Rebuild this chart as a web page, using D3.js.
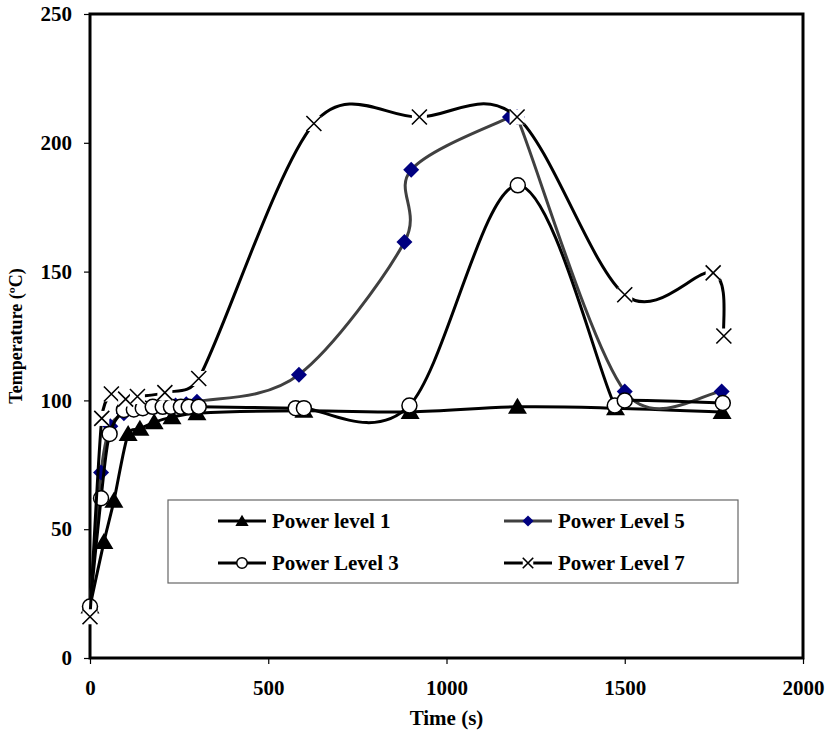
<!DOCTYPE html>
<html>
<head>
<meta charset="utf-8">
<script src="https://cdn.jsdelivr.net/npm/d3@7.9.0/dist/d3.min.js"></script>
<style>
  body { margin: 0; background: #fff; }
  svg text { font-family: "Liberation Serif", "Times New Roman", serif; font-weight: bold; }
</style>
</head>
<body>
<svg id="chart" width="827" height="733"></svg>
<script>
// Power level readings (time in s, temperature in ºC)
const p1Time = [0, 39, 67, 107, 140, 180, 230, 300, 600, 898, 1199, 1474, 1773];
const p1Temp = [20, 45, 61, 87, 89, 91.5, 93.5, 95, 96, 95.5, 97.5, 97, 95.5];

const p5Time = [0, 31, 57, 95, 123, 150, 180, 210, 240, 270, 300, 586, 882, 901, 1178, 1198, 1500, 1772];
const p5Temp = [20, 72, 90, 95, 96.5, 97, 97.5, 98, 98, 98.5, 99.5, 110, 161.5, 189.5, 210, 210, 103.5, 103.5];

const p3Time = [0, 31, 55, 95, 123, 148, 176, 204, 227, 255, 277, 305, 577, 600, 896, 1200, 1472, 1500, 1775];
const p3Temp = [20, 62, 87, 96.3, 96.5, 97, 97.5, 97.5, 97.5, 97.5, 97.5, 97.5, 97, 97, 98, 183.5, 98, 100, 99];

const p7Time = [0, 33, 60, 100, 133, 210, 305, 628, 924, 1198, 1500, 1748, 1778];
const p7Temp = [16, 93, 102.5, 100.5, 101.5, 103, 108.5, 207.5, 210, 210, 141, 149.5, 125];

const seriesNames = ["Power level 1", "Power Level 5", "Power Level 3", "Power Level 7"];
const xTicks = [0, 500, 1000, 1500, 2000];
const yTicks = [0, 50, 100, 150, 200, 250];

const svg = d3.select("#chart");
const plotLeft = 90, plotRight = 803, plotTop = 14, plotBottom = 658;

const x = d3.scaleLinear().domain([0, 2000]).range([plotLeft, plotRight]);
const y = d3.scaleLinear().domain([0, 250]).range([plotBottom, plotTop]);

const zip = (ts, vs) => ts.map((t, i) => ({ t: t, v: vs[i] }));
const series = [
    { name: seriesNames[0], data: zip(p1Time, p1Temp), stroke: "#000", marker: "triangle" },
    { name: seriesNames[1], data: zip(p5Time, p5Temp), stroke: "#404040", marker: "diamond" },
    { name: seriesNames[2], data: zip(p3Time, p3Temp), stroke: "#000", marker: "circle" },
    { name: seriesNames[3], data: zip(p7Time, p7Temp), stroke: "#000", marker: "cross" }
];

// axes
const xAxis = svg.append("g")
    .attr("transform", `translate(0,${plotBottom})`)
    .call(d3.axisBottom(x).tickValues(xTicks).tickSize(6).tickPadding(16).tickFormat(d3.format("d")));
const yAxis = svg.append("g")
    .attr("transform", `translate(${plotLeft},0)`)
    .call(d3.axisLeft(y).tickValues(yTicks).tickSize(6).tickPadding(12));

[xAxis, yAxis].forEach(g => {
    g.select(".domain").remove();
    g.selectAll(".tick line").attr("stroke", "#000").attr("stroke-width", 1.2);
    g.selectAll(".tick text").attr("font-size", 21).attr("fill", "#000");
});

// plot frame
svg.append("rect")
    .attr("x", plotLeft).attr("y", plotTop)
    .attr("width", plotRight - plotLeft).attr("height", plotBottom - plotTop)
    .attr("fill", "none").attr("stroke", "#000").attr("stroke-width", 3);

// axis titles
svg.append("text")
    .attr("x", (plotLeft + plotRight) / 2).attr("y", 725)
    .attr("text-anchor", "middle").attr("font-size", 21)
    .text("Time (s)");
svg.append("text")
    .attr("transform", `translate(22,${(plotTop + plotBottom) / 2}) rotate(-90)`)
    .attr("text-anchor", "middle").attr("font-size", 18)
    .text("Temperature (ºC)");

// Excel-like smoothing: cardinal spline, control arms capped at half the segment
function smoothPath(data) {
    const pts = data.map(d => [x(d.t), y(d.v)]);
    const n = pts.length;
    const tan = pts.map((p, i) => {
        const a = pts[Math.max(i - 1, 0)], b = pts[Math.min(i + 1, n - 1)];
        return [(b[0] - a[0]) / 6, (b[1] - a[1]) / 6];
    });
    const path = d3.path();
    path.moveTo(pts[0][0], pts[0][1]);
    for (let i = 0; i < n - 1; i++) {
        const a = pts[i], b = pts[i + 1];
        const half = Math.hypot(b[0] - a[0], b[1] - a[1]) / 2;
        const cap = t => {
            const m = Math.hypot(t[0], t[1]);
            const k = m > half ? half / m : 1;
            return [t[0] * k, t[1] * k];
        };
        const t1 = cap(tan[i]), t2 = cap(tan[i + 1]);
        path.bezierCurveTo(a[0] + t1[0], a[1] + t1[1], b[0] - t2[0], b[1] - t2[1], b[0], b[1]);
    }
    return path.toString();
}

function drawMarker(g, kind, s) {
    if (kind === "triangle") {
        g.append("path").attr("d", `M0,${-9 * s} L${9.5 * s},${7 * s} L${-9.5 * s},${7 * s} Z`).attr("fill", "#000");
    } else if (kind === "diamond") {
        g.append("path").attr("d", `M0,${-8 * s} L${8 * s},0 L0,${8 * s} L${-8 * s},0 Z`).attr("fill", "#000080");
    } else if (kind === "circle") {
        g.append("circle").attr("r", 7.5 * s).attr("fill", "#fff").attr("stroke", "#000").attr("stroke-width", 1.5);
    } else {
        const h = 7.5 * s;
        g.append("rect").attr("x", -h).attr("y", -h).attr("width", 2 * h).attr("height", 2 * h).attr("fill", "#fff");
        g.append("path").attr("d", `M${-h},${-h} L${h},${h} M${-h},${h} L${h},${-h}`)
            .attr("stroke", "#000").attr("stroke-width", 1.6).attr("fill", "none");
    }
}

series.forEach(s => {
    const g = svg.append("g");
    g.append("path")
        .attr("d", smoothPath(s.data))
        .attr("fill", "none")
        .attr("stroke", s.stroke)
        .attr("stroke-width", 3);
    s.data.forEach(d => {
        drawMarker(g.append("g").attr("transform", `translate(${x(d.t)},${y(d.v)})`), s.marker, 1);
    });
});

// legend
const legend = svg.append("g");
legend.append("rect")
    .attr("x", 168).attr("y", 500).attr("width", 570).attr("height", 83)
    .attr("fill", "#fff").attr("stroke", "#666").attr("stroke-width", 1.2);

const legendPos = [[242, 521], [528, 521], [242, 563], [528, 563]];
series.forEach((s, i) => {
    const [cx, cy] = legendPos[i];
    const item = legend.append("g").attr("transform", `translate(${cx},${cy})`);
    item.append("line").attr("x1", -24).attr("x2", 24)
        .attr("stroke", s.stroke).attr("stroke-width", 3);
    drawMarker(item.append("g"), s.marker, 0.7);
    item.append("text").attr("x", 30).attr("y", 7)
        .attr("font-size", 21).attr("fill", "#000")
        .text(s.name);
});
</script>
</body>
</html>
